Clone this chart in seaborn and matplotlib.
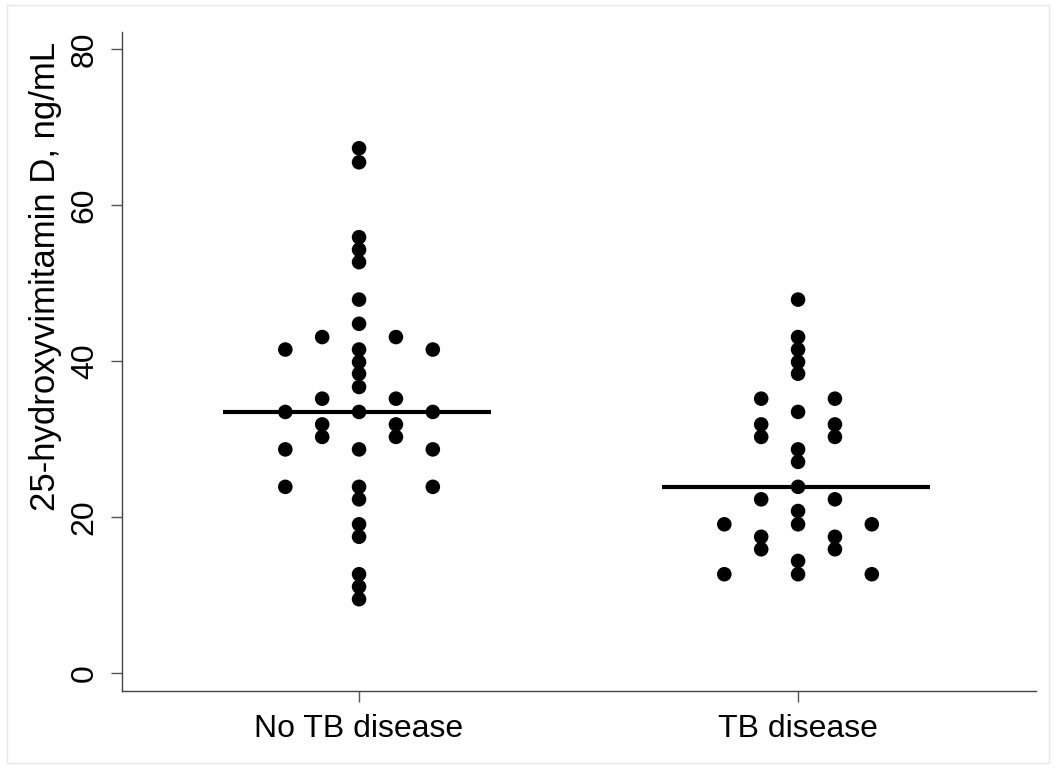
import numpy as np
import pandas as pd
import matplotlib
matplotlib.use("Agg")
import matplotlib.pyplot as plt
import seaborn as sns
from matplotlib.patches import Rectangle

# valores (ng/mL)
categories = ["No TB disease", "TB disease"]
no_tb = [67.3, 65.5, 55.9, 54.3, 52.7, 47.9, 44.8, 43.1, 43.1,
         41.5, 41.5, 41.5, 39.9, 38.4, 36.7, 35.2, 35.2,
         33.5, 33.5, 33.5, 31.9, 31.9, 30.3, 30.3,
         28.7, 28.7, 28.7, 23.9, 23.9, 23.9, 22.3, 19.1, 17.5,
         12.7, 11.1, 9.5]
tb = [47.9, 43.1, 41.5, 39.9, 38.4, 35.2, 35.2, 33.5, 31.9, 31.9,
      30.3, 30.3, 28.7, 27.1, 23.9, 22.3, 22.3, 20.8,
      19.1, 19.1, 19.1, 17.5, 17.5, 15.9, 15.9, 14.4,
      12.7, 12.7, 12.7]
yticks = [0, 20, 40, 60, 80]
ylabel = "25-hydroxyvimitamin D, ng/mL"

# ============================================================================
# tabla larga + posición horizontal tipo "dotplot" de Stata
# ============================================================================
df = pd.DataFrame({
    "group": [categories[0]] * len(no_tb) + [categories[1]] * len(tb),
    "value": no_tb + tb,
})
df["gidx"] = df["group"].map({c: i for i, c in enumerate(categories)})
df["n"] = df.groupby(["gidx", "value"])["value"].transform("size")
df["k"] = df.groupby(["gidx", "value"]).cumcount()
step = 0.168
df["x"] = df["gidx"] + (df["k"] - (df["n"] - 1) / 2) * step

sns.set_style("white")
plt.rcParams["font.family"] = ["Liberation Sans", "DejaVu Sans"]
plt.rcParams["text.color"] = "black"
plt.rcParams["axes.labelcolor"] = "black"
plt.rcParams["xtick.color"] = "black"
plt.rcParams["ytick.color"] = "black"

fig = plt.figure(figsize=(10.55, 7.68), dpi=100)
ax = fig.add_axes([122 / 1055, 1 - 690.7 / 768, (1036 - 122) / 1055, (690.7 - 32) / 768])

sns.scatterplot(data=df, x="x", y="value", ax=ax, color="black",
                s=110, edgecolor="none", linewidth=0, legend=False)

# mediana de cada grupo
for i, vals in enumerate([no_tb, tb]):
    ax.hlines(np.median(vals), i - 0.31, i + 0.30, color="black", lw=3)

ax.set_xlim(-0.54, 1.542)
ax.set_ylim(-2.23, 82.2)
ax.set_xticks([0, 1])
ax.set_xticklabels(categories)
ax.set_yticks(yticks)
ax.set_yticklabels([str(t) for t in yticks], rotation=90, va="center")
ax.set_xlabel("")
ax.set_ylabel(ylabel, fontsize=25)
ax.yaxis.set_label_coords(-0.066, (690.7 - 276) / (690.7 - 32))

for s in ["top", "right"]:
    ax.spines[s].set_visible(False)
for s in ["left", "bottom"]:
    ax.spines[s].set_color("#444444")
    ax.spines[s].set_linewidth(1.0)

ax.tick_params(axis="both", direction="out", length=8, width=1,
               color="#555555", labelsize=23, bottom=True, left=True)
ax.tick_params(axis="y", pad=8)
ax.tick_params(axis="x", pad=9)

fig.patches.append(Rectangle((7 / 1055, 5 / 768), 1042 / 1055, 758 / 768,
                             transform=fig.transFigure, fill=False,
                             edgecolor="#e8e8e8", lw=1))

fig.savefig("out.png", dpi=100)
